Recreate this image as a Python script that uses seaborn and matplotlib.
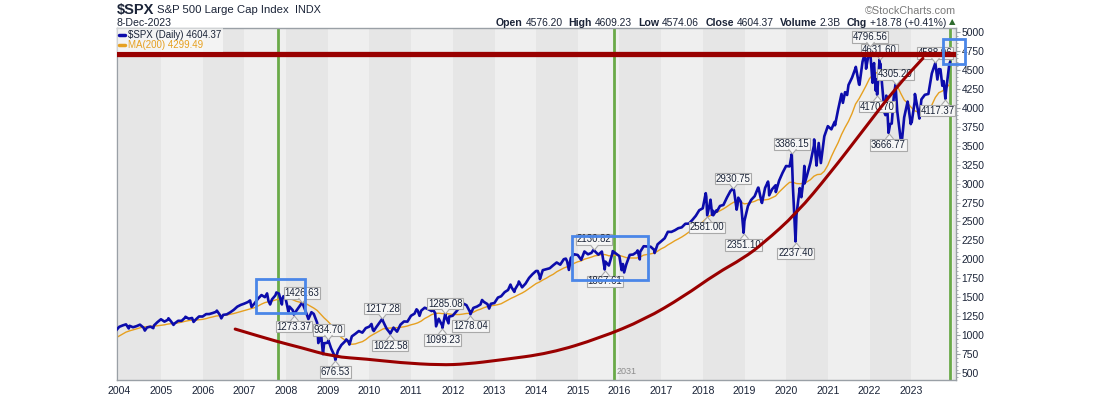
import numpy as np
import pandas as pd
import seaborn as sns
import matplotlib
matplotlib.use("Agg")
import matplotlib.pyplot as plt
import matplotlib.dates as mdates
import matplotlib.transforms as mtransforms
from matplotlib.path import Path
from matplotlib.patches import Rectangle, PathPatch
from matplotlib.lines import Line2D
from matplotlib.ticker import MultipleLocator

# --- DATA ---
# month-end closes, Jan 2003 .. Nov 2023
monthly_close = [
    856, 841, 848, 917, 964, 975, 990, 1008, 996, 1051, 1058, 1112,        # 2003
    1131, 1145, 1126, 1107, 1121, 1141, 1102, 1104, 1115, 1130, 1174, 1212,  # 2004
    1181, 1204, 1181, 1157, 1192, 1191, 1234, 1220, 1229, 1207, 1249, 1248,  # 2005
    1280, 1281, 1295, 1311, 1270, 1270, 1277, 1304, 1336, 1378, 1401, 1418,  # 2006
    1438, 1407, 1421, 1482, 1531, 1503, 1455, 1474, 1527, 1549, 1481, 1468,  # 2007
    1379, 1331, 1323, 1386, 1400, 1280, 1267, 1283, 1166, 969, 896, 903,     # 2008
    826, 735, 798, 873, 919, 919, 987, 1021, 1057, 1036, 1096, 1115,         # 2009
    1074, 1104, 1169, 1187, 1089, 1031, 1102, 1049, 1141, 1183, 1181, 1258,  # 2010
    1286, 1327, 1326, 1364, 1345, 1321, 1292, 1219, 1131, 1253, 1247, 1258,  # 2011
    1312, 1366, 1408, 1398, 1310, 1362, 1379, 1407, 1441, 1412, 1416, 1426,  # 2012
    1498, 1515, 1569, 1598, 1631, 1606, 1686, 1633, 1682, 1757, 1806, 1848,  # 2013
    1783, 1859, 1872, 1884, 1924, 1960, 1931, 2003, 1972, 2018, 2068, 2059,  # 2014
    1995, 2105, 2068, 2086, 2107, 2063, 2104, 1972, 1920, 2079, 2080, 2044,  # 2015
    1940, 1932, 2060, 2065, 2097, 2099, 2174, 2171, 2168, 2126, 2199, 2239,  # 2016
    2279, 2364, 2363, 2384, 2412, 2423, 2470, 2472, 2519, 2575, 2648, 2674,  # 2017
    2824, 2714, 2641, 2648, 2705, 2718, 2816, 2902, 2914, 2712, 2760, 2507,  # 2018
    2704, 2784, 2834, 2946, 2752, 2942, 2980, 2926, 2977, 3038, 3141, 3231,  # 2019
    3226, 2954, 2585, 2912, 3044, 3100, 3271, 3500, 3363, 3270, 3622, 3756,  # 2020
    3714, 3811, 3973, 4181, 4204, 4298, 4395, 4523, 4308, 4605, 4567, 4766,  # 2021
    4516, 4374, 4530, 4132, 4132, 3785, 4130, 3955, 3586, 3872, 4080, 3840,  # 2022
    4077, 3970, 4109, 4169, 4180, 4450, 4589, 4508, 4288, 4194, 4568,        # 2023
]

# extra daily swing closes
swing_dates = [
    "2004-03-24", "2004-08-12", "2004-10-25", "2005-03-07", "2005-04-20", "2005-08-03",
    "2005-10-13", "2006-05-05", "2006-06-13", "2007-02-20", "2007-03-05", "2007-07-19",
    "2007-08-15", "2007-10-09", "2007-11-26", "2007-12-10", "2008-01-22", "2008-07-15",
    "2008-08-11", "2008-10-10", "2008-11-04", "2008-11-20", "2009-06-12", "2009-07-10",
    "2010-01-19", "2010-02-08", "2011-02-18", "2011-03-16", "2011-04-29", "2011-07-07",
    "2011-08-08", "2011-11-25", "2012-04-02", "2012-09-14", "2012-11-15", "2013-05-21",
    "2013-06-24", "2013-08-02", "2014-01-15", "2014-02-03", "2014-09-18", "2014-10-15",
    "2015-11-03", "2016-01-20", "2016-02-11", "2016-06-08", "2016-06-27", "2016-11-04",
    "2018-01-26", "2018-03-09", "2018-03-23", "2018-04-02", "2018-05-03", "2018-10-24",
    "2018-11-07", "2019-05-03", "2019-06-03", "2019-07-26", "2019-08-05", "2019-10-02",
    "2020-04-29", "2020-05-13", "2020-06-08", "2020-06-11", "2020-09-02", "2020-09-23",
    "2020-10-12", "2021-03-04", "2021-05-12", "2021-06-18", "2021-09-02", "2021-10-04",
    "2021-11-18", "2021-12-01", "2022-01-27", "2022-02-09", "2022-02-23", "2022-04-04",
    "2022-05-12", "2022-05-20", "2022-05-27", "2022-07-14", "2022-10-12", "2022-12-01",
    "2022-12-28", "2023-01-05", "2023-02-02", "2023-03-13", "2023-08-18", "2023-09-14",
    "2023-10-12", "2023-12-08",
]
swing_values = [
    1091, 1063, 1095, 1225, 1138, 1245,
    1177, 1326, 1224, 1460, 1374, 1553,
    1407, 1565, 1407, 1516, 1311, 1215,
    1305, 899, 1006, 752, 946, 879,
    1150, 1057, 1343, 1257, 1364, 1353,
    1119, 1159, 1419, 1466, 1353, 1669,
    1573, 1710, 1848, 1742, 2011, 1862,
    2110, 1859, 1829, 2119, 2001, 2085,
    2873, 2787, 2588, 2582, 2630, 2656,
    2814, 2946, 2744, 3026, 2845, 2888,
    2940, 2820, 3232, 3002, 3581, 3237,
    3534, 3768, 4063, 4166, 4537, 4300,
    4705, 4513, 4327, 4587, 4226, 4583,
    3930, 3901, 4158, 3790, 3577, 4077,
    3783, 3808, 4180, 3856, 4370, 4505,
    4350, 4604.37,
]

# labelled highs / lows
label_dates = [
    "2008-05-19", "2008-03-10", "2009-01-06", "2009-03-09", "2010-04-23", "2010-07-02",
    "2011-10-27", "2011-10-03", "2012-06-04", "2015-05-21", "2015-08-25", "2018-02-08",
    "2018-09-20", "2018-12-24", "2020-02-19", "2020-03-23", "2022-01-03", "2022-03-29",
    "2022-03-08", "2022-08-16", "2022-06-16", "2023-07-31", "2023-10-27",
]
label_values = [
    1426.63, 1273.37, 934.70, 676.53, 1217.28, 1022.58,
    1285.08, 1099.23, 1278.04, 2130.82, 1867.61, 2581.00,
    2930.75, 2351.10, 3386.15, 2237.40, 4796.56, 4631.60,
    4170.70, 4305.20, 3666.77, 4588.96, 4117.37,
]
label_kind = [
    "high", "low", "high", "low", "high", "low",
    "high", "low", "low", "high", "low", "low",
    "high", "low", "high", "low", "high", "high",
    "low", "high", "low", "high", "low",
]

# drawn annotations
resistance_level = 4700
cycle_dates = ["2007-10-19", "2015-11-13", "2023-12-07"]
curve_years = [2006.78, 2007.80, 2008.34, 2009.13, 2009.94, 2010.73, 2011.69, 2012.33,
               2013.13, 2014.33, 2015.53, 2016.61, 2017.53, 2018.33, 2018.97, 2019.45,
               2020.25, 2021.05, 2021.85, 2022.65, 2023.28]
curve_values = [1083, 916, 842, 719, 688, 640, 609, 622,
                675, 763, 965, 1211, 1509, 1817, 2015, 2212,
                2608, 3135, 3705, 4275, 4650]
box_years = [(2007.27, 2008.46), (2014.85, 2016.69), (2023.76, 2024.29)]
box_values = [(1290, 1742), (1729, 2313), (4578, 4908)]

header_pieces = [("Open", "4576.20"), ("High", "4609.23"), ("Low", "4574.06"),
                 ("Close", "4604.37"), ("Volume", "2.3B"), ("Chg", "+18.78 (+0.41%)")]
last_close = "4604.37"
last_ma = "4299.49"

# --- STYLE ---
sns.set_style("white")
plt.rcParams["font.family"] = ["Liberation Sans", "DejaVu Sans"]

NAVY = "#1b2438"
PRICE = "#0c0cab"
MA_COL = "#e6a020"
RED = "#990000"
GREEN = "#6aaa48"
BLUE = "#4a86e8"
GRID = "#9aa0a6"


def yr(v):
    y = int(np.floor(v))
    a = pd.Timestamp(year=y, month=1, day=1)
    b = pd.Timestamp(year=y + 1, month=1, day=1)
    return a + (b - a) * (v - y)


# --- BUILD SERIES ---
month_idx = pd.date_range("2003-01-31", periods=len(monthly_close), freq=pd.offsets.MonthEnd())
monthly = pd.Series(monthly_close, index=month_idx, dtype=float)
ma200 = monthly.rolling("290D").mean()

pts = pd.concat([
    pd.DataFrame({"date": pd.to_datetime(label_dates), "close": label_values, "p": 0}),
    pd.DataFrame({"date": pd.to_datetime(swing_dates), "close": swing_values, "p": 1}),
    pd.DataFrame({"date": month_idx, "close": monthly_close, "p": 2}),
])
pts = pts.sort_values(["date", "p"]).drop_duplicates("date").reset_index(drop=True)

# --- FIGURE ---
W, H = 1100, 396
fig = plt.figure(figsize=(W / 100, H / 100), dpi=100)
fig.patch.set_facecolor("white")
ax = fig.add_axes([116.7 / W, (H - 380) / H, (956 - 116.7) / W, (380 - 28) / H])

# alternating year bands
for y in range(2003, 2025):
    ax.axvspan(yr(y), yr(y + 1), color="#e6e6e6" if y % 2 == 0 else "#efefef", lw=0, zorder=0)

for d in cycle_dates:
    ax.axvline(pd.Timestamp(d), color=GREEN, lw=2, zorder=1)

sns.lineplot(x=ma200.index, y=ma200.values, ax=ax, color=MA_COL, lw=1.0,
             estimator=None, legend=False, zorder=2)
sns.lineplot(x=pts["date"], y=pts["close"], ax=ax, color=PRICE, lw=1.9,
             estimator=None, sort=False, legend=False, zorder=3)

ax.set_xlim(yr(2003.938), yr(2024.074))
ax.set_ylim(412, 5049)
ax.set_xlabel("")
ax.set_ylabel("")

# pivot labels
chev = Path([(-1, 0.6), (0, -0.6), (1, 0.6)], [Path.MOVETO, Path.LINETO, Path.LINETO])
chev_up = Path([(-1, -0.6), (0, 0.6), (1, -0.6)], [Path.MOVETO, Path.LINETO, Path.LINETO])
anns = []
for d, v, k in zip(label_dates, label_values, label_kind):
    x = mdates.date2num(pd.Timestamp(d))
    if k == "high":
        dy, cdy, mk = 7.3, 2.1, chev
    else:
        dy, cdy, mk = -8.6, -2.4, chev_up
    a = ax.annotate(f"{v:.2f}", xy=(x, v), xytext=(0, dy), textcoords="offset points",
                    ha="center", va="center", fontsize=6.9, color=NAVY, zorder=6,
                    bbox=dict(boxstyle="square,pad=0.08", fc="#f6f6f6", ec="#a9a9a9", lw=0.8))
    anns.append(a)
    tr = mtransforms.offset_copy(ax.transData, fig=fig, x=0, y=cdy, units="points")
    ax.plot([x], [v], marker=mk, ms=5.8, mfc="#f6f6f6", mec="#a9a9a9", mew=0.8,
            transform=tr, zorder=6.5, clip_on=False)

# drawn lines / boxes
ax.axhline(resistance_level, color=RED, lw=3.8, zorder=7)

cx = mdates.date2num([yr(v) for v in curve_years])
cp = np.column_stack([cx, curve_values])
verts = [cp[0], (cp[0] + cp[1]) / 2]
codes = [Path.MOVETO, Path.LINETO]
for i in range(1, len(cp) - 1):
    verts += [cp[i], (cp[i] + cp[i + 1]) / 2]
    codes += [Path.CURVE3, Path.CURVE3]
verts.append(cp[-1])
codes.append(Path.LINETO)
ax.add_patch(PathPatch(Path(verts, codes), fill=False, ec=RED, lw=2.2,
                       capstyle="round", zorder=7))

for (x0, x1), (y0, y1) in zip(box_years, box_values):
    ax.add_patch(Rectangle((mdates.date2num(yr(x0)), y0),
                           mdates.date2num(yr(x1)) - mdates.date2num(yr(x0)), y1 - y0,
                           fill=False, ec=BLUE, lw=2, zorder=8, clip_on=False))

ax.text(yr(2015.93), 519, "2031", fontsize=6.5, color="#8c8c8c", va="center", zorder=4)

# axes styling
for s in ax.spines.values():
    s.set_color(GRID)
    s.set_linewidth(1)
ax.set_xticks([yr(y) for y in range(2004, 2024)])
ax.xaxis.set_major_formatter(mdates.DateFormatter("%Y"))
ax.set_yticks(range(500, 5001, 250))
ax.yaxis.set_minor_locator(MultipleLocator(50))
ax.yaxis.tick_right()
ax.tick_params(axis="x", length=3, width=0.8, color=GRID, pad=1, labelsize=7.6, labelcolor=NAVY)
ax.tick_params(axis="y", which="major", length=3, width=0.8, color=GRID, pad=1,
               labelsize=7.4, labelcolor=NAVY, right=True, left=False)
ax.tick_params(axis="y", which="minor", length=1.5, width=0.6, color=GRID, right=True, left=False)

# legend
handles = [Line2D([], [], color=PRICE, lw=2.5), Line2D([], [], color=MA_COL, lw=2.5)]
leg = ax.legend(handles, [f"$SPX (Daily) {last_close}", f"MA(200) {last_ma}"],
                loc="upper left", bbox_to_anchor=(0, 1), borderaxespad=0.05, fontsize=7,
                handlelength=0.7, handletextpad=0.3, labelspacing=0.05, borderpad=0.15,
                frameon=True, fancybox=False, facecolor="white", framealpha=0.55,
                edgecolor="none")
leg.set_zorder(10)
leg.get_texts()[0].set_color(NAVY)
leg.get_texts()[1].set_color(MA_COL)

# header
renderer = fig.canvas.get_renderer()


def place_row(items, x0, y, align="left"):
    # items: (text artist, gap after in px)
    widths = [t.get_window_extent(renderer).width for t, _ in items]
    total = sum(widths) + sum(g for _, g in items[:-1])
    x = x0 if align == "left" else x0 - total
    for (t, g), w in zip(items, widths):
        t.set_position((x / W, 1 - y / H))
        x += w + g


title_row = [
    (fig.text(0, 0, "$SPX", fontsize=10.5, fontweight="bold", color=NAVY, va="center"), 3),
    (fig.text(0, 0, "S&P 500 Large Cap Index", fontsize=8.2, color=NAVY, va="center"), 6),
    (fig.text(0, 0, "INDX", fontsize=7.8, color=NAVY, va="center"), 0),
]
place_row(title_row, 116.7, 10.3)
fig.text(116.7 / W, 1 - 22.5 / H, "8-Dec-2023", fontsize=7.6, color=NAVY, va="center")
fig.text(956 / W, 1 - 10.5 / H, "\u00a9StockCharts.com", fontsize=7.8, color="#7a7a7a",
         ha="right", va="center")

row = []
for lab, val in header_pieces:
    row.append((fig.text(0, 0, lab, fontsize=7.6, fontweight="bold", color=NAVY, va="center"), 3))
    row.append((fig.text(0, 0, val, fontsize=7.4, color=NAVY, va="center"), 6))
place_row(row, 946.5, 22.5, align="right")
fig.text(952 / W, 1 - 21.5 / H, "\u25b2", fontsize=6, color="#2e6b2e", ha="center", va="center",
         family="DejaVu Sans")

# keep label boxes inside the plot on the right
fig.canvas.draw()
ax_right = ax.get_window_extent(renderer).x1
for a in anns:
    bb = a.get_window_extent(renderer)
    over = bb.x1 + 1.5 - ax_right
    if over > 0:
        dx, dy = a.xyann
        a.xyann = (dx - over * 72 / fig.dpi, dy)

fig.savefig("out.png", dpi=100, facecolor="white")
